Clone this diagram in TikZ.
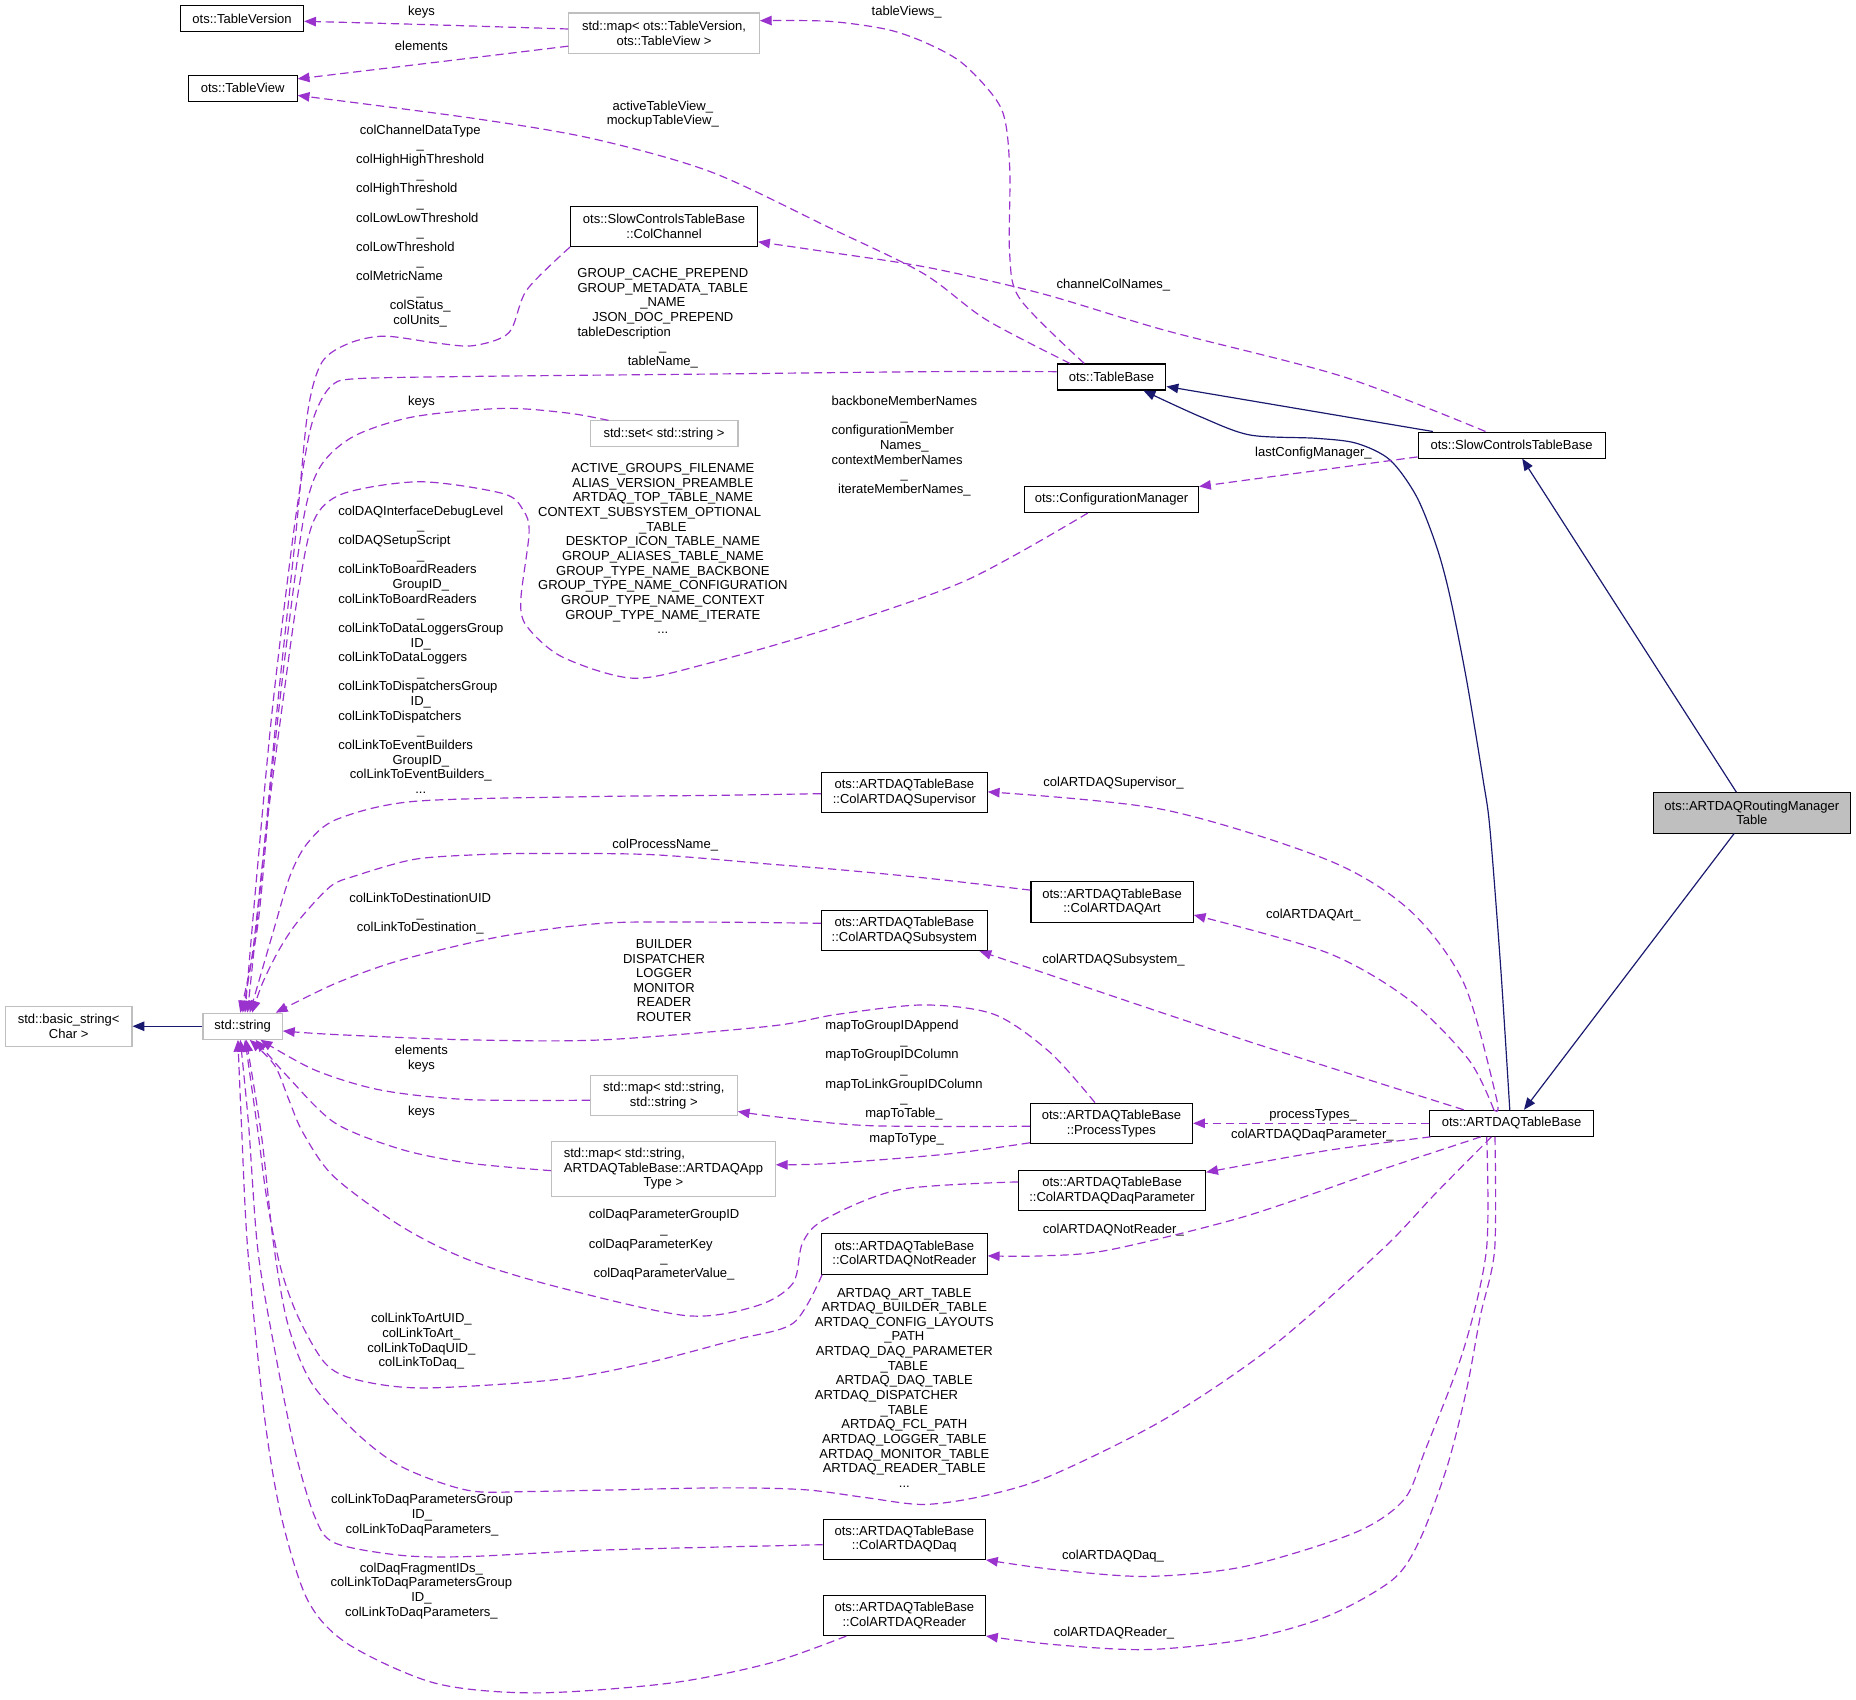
\documentclass[tikz,border=0pt]{standalone}
\usepackage{fontspec}
\setmainfont{Liberation Sans}
\usetikzlibrary{arrows.meta,calc}
\definecolor{depcol}{HTML}{9A32CD}
\definecolor{inhcol}{HTML}{191970}
\definecolor{extgray}{HTML}{BFBFBF}
\definecolor{maingray}{HTML}{BFBFBF}
\newcommand{\leftln}[2]{\sbox0{#1}\makebox[\wd0][l]{#2}}
\begin{document}
\begin{tikzpicture}[x=1pt,y=-1pt,font=\fontsize{11}{12.37}\selectfont,
 cls/.style={draw=black,line width=0.9pt,fill=white,inner sep=0pt,align=center},
 ext/.style={draw=extgray,line width=0.9pt,fill=white,inner sep=0pt,align=center},
 mainc/.style={draw=black,fill=maingray,line width=0.9pt,inner sep=0pt,align=center},
 lbl/.style={inner sep=0pt,align=center},
 dep/.style={draw=depcol,line width=1pt,dash pattern=on 7pt off 4pt,-{Triangle[length=10pt,width=8pt]}},
 inh/.style={draw=inhcol,line width=1pt,-{Triangle[length=10pt,width=8pt]}},
 sz/.style 2 args={minimum width=#1pt,minimum height=#2pt}]
\useasboundingbox[fill=white] (0,0) rectangle (1568,1436.2);

% ---------------- class nodes ----------------
\node[cls,sz={104}{22}] (tver) at (204.5,15.6) {ots::TableVersion};
\node[ext,sz={161}{34}] (mapTV) at (561,28) {std::map< ots::TableVersion,\\ots::TableView >};
\node[cls,sz={92}{22}] (tview) at (205,74.6) {ots::TableView};
\node[cls,sz={158}{34}] (colchan) at (561,191.3) {ots::SlowControlsTableBase\\::ColChannel};
\node[cls,sz={92}{22}] (tbase) at (939,318.5) {ots::TableBase};
\node[cls,sz={158}{22}] (sctb) at (1277,376) {ots::SlowControlsTableBase};
\node[ext,sz={125}{22}] (setstr) at (561,366.6) {std::set< std::string >};
\node[cls,sz={147}{22}] (cfgm) at (939,422) {ots::ConfigurationManager};
\node[mainc,sz={166}{34}] (routing) at (1480,686.8) {ots::ARTDAQRoutingManager\\Table};
\node[cls,sz={140}{34}] (csup) at (764,669.5) {ots::ARTDAQTableBase\\::ColARTDAQSupervisor};
\node[cls,sz={137}{34}] (cart) at (939.5,762) {ots::ARTDAQTableBase\\::ColARTDAQArt};
\node[cls,sz={140}{34}] (csub) at (764,786) {ots::ARTDAQTableBase\\::ColARTDAQSubsystem};
\node[ext,sz={107}{34}] (bstr) at (58,867) {std::basic\_string<\\Char >};
\node[ext,sz={67}{22}] (str) at (205,867) {std::string};
\node[ext,sz={124}{34}] (mapSS) at (560.8,925.5) {std::map< std::string,\\std::string >};
\node[cls,sz={137}{34}] (ptypes) at (939,949) {ots::ARTDAQTableBase\\::ProcessTypes};
\node[cls,sz={138}{22}] (atb) at (1277,949) {ots::ARTDAQTableBase};
\node[ext,sz={189}{46}] (mapApp) at (560.5,987.5) {\leftln{ARTDAQTableBase::ARTDAQApp}{std::map< std::string,}\\ARTDAQTableBase::ARTDAQApp\\Type >};
\node[cls,sz={158}{34}] (cdaqp) at (939.5,1005.8) {ots::ARTDAQTableBase\\::ColARTDAQDaqParameter};
\node[cls,sz={140}{34}] (cnotr) at (764,1059.4) {ots::ARTDAQTableBase\\::ColARTDAQNotReader};
\node[cls,sz={137}{34}] (cdaq) at (764,1300.4) {ots::ARTDAQTableBase\\::ColARTDAQDaq};
\node[cls,sz={137}{34}] (creader) at (764,1364.7) {ots::ARTDAQTableBase\\::ColARTDAQReader};

% ---------------- edge labels ----------------
\node[lbl] (lA) at (356,10) {keys};
\node[lbl] (lB) at (356,39) {elements};
\node[lbl] (lC) at (766,10) {tableViews\_};
\node[lbl] (lD) at (560,96.3) {activeTableView\_\\mockupTableView\_};
\node[lbl] (lE) at (940.6,240.7) {channelColNames\_};
\node[lbl] (lF) at (560,268.9) {GROUP\_CACHE\_PREPEND\\GROUP\_METADATA\_TABLE\\\_NAME\\JSON\_DOC\_PREPEND\\\leftln{GROUP\_METADATA\_TABLE}{tableDescription}\\\_\\tableName\_};
\node[lbl] (lG) at (355,190.9) {colChannelDataType\\\_\\\leftln{colHighHighThreshold}{colHighHighThreshold}\\\_\\\leftln{colHighHighThreshold}{colHighThreshold}\\\_\\\leftln{colHighHighThreshold}{colLowLowThreshold}\\\_\\\leftln{colHighHighThreshold}{colLowThreshold}\\\_\\\leftln{colHighHighThreshold}{colMetricName}\\\_\\colStatus\_\\colUnits\_};
\node[lbl] (lH) at (356,340) {keys};
\node[lbl] (lI) at (764,376.8) {backboneMemberNames\\\_\\\leftln{backboneMemberNames}{configurationMember}\\Names\_\\\leftln{backboneMemberNames}{contextMemberNames}\\\_\\iterateMemberNames\_};
\node[lbl] (lJ) at (560,463.5) {ACTIVE\_GROUPS\_FILENAME\\ALIAS\_VERSION\_PREAMBLE\\ARTDAQ\_TOP\_TABLE\_NAME\\\leftln{GROUP\_TYPE\_NAME\_CONFIGURATION}{CONTEXT\_SUBSYSTEM\_OPTIONAL}\\\_TABLE\\DESKTOP\_ICON\_TABLE\_NAME\\GROUP\_ALIASES\_TABLE\_NAME\\GROUP\_TYPE\_NAME\_BACKBONE\\GROUP\_TYPE\_NAME\_CONFIGURATION\\GROUP\_TYPE\_NAME\_CONTEXT\\GROUP\_TYPE\_NAME\_ITERATE\\...};
\node[lbl] (lK) at (1109.6,382.9) {lastConfigManager\_};
\node[lbl] (lS) at (355.5,548.8) {colDAQInterfaceDebugLevel\\\_\\\leftln{colLinkToDataLoggersGroup}{colDAQSetupScript}\\\_\\\leftln{colLinkToDataLoggersGroup}{colLinkToBoardReaders}\\GroupID\_\\\leftln{colLinkToDataLoggersGroup}{colLinkToBoardReaders}\\\_\\\leftln{colLinkToDataLoggersGroup}{colLinkToDataLoggersGroup}\\ID\_\\\leftln{colLinkToDataLoggersGroup}{colLinkToDataLoggers}\\\_\\\leftln{colLinkToDataLoggersGroup}{colLinkToDispatchersGroup}\\ID\_\\\leftln{colLinkToDataLoggersGroup}{colLinkToDispatchers}\\\_\\\leftln{colLinkToDataLoggersGroup}{colLinkToEventBuilders}\\GroupID\_\\colLinkToEventBuilders\_\\...};
\node[lbl] (lT) at (562,713.7) {colProcessName\_};
\node[lbl] (lP) at (940.7,661.6) {colARTDAQSupervisor\_};
\node[lbl] (lQ) at (1109.5,773.4) {colARTDAQArt\_};
\node[lbl] (lR) at (940.7,810.8) {colARTDAQSubsystem\_};
\node[lbl] (lU) at (355,772.1) {colLinkToDestinationUID\\\_\\colLinkToDestination\_};
\node[lbl] (lV) at (561,828.4) {BUILDER\\DISPATCHER\\LOGGER\\MONITOR\\READER\\ROUTER};
\node[lbl] (lW) at (763.7,904) {\leftln{mapToLinkGroupIDColumn}{mapToGroupIDAppend}\\\_\\\leftln{mapToLinkGroupIDColumn}{mapToGroupIDColumn}\\\_\\mapToLinkGroupIDColumn\\\_\\mapToTable\_};
\node[lbl] (lX) at (766,962.3) {mapToType\_};
\node[lbl] (lY) at (356,894.5) {elements\\keys};
\node[lbl] (lZ) at (356,939.9) {keys};
\node[lbl] (lAA) at (1109.4,942.3) {processTypes\_};
\node[lbl] (lAB) at (1108.7,959.2) {colARTDAQDaqParameter\_};
\node[lbl] (lAC) at (561,1051.5) {colDaqParameterGroupID\\\_\\\leftln{colDaqParameterGroupID}{colDaqParameterKey}\\\_\\colDaqParameterValue\_};
\node[lbl] (lAD) at (940.6,1038.9) {colARTDAQNotReader\_};
\node[lbl] (lAE) at (356,1133.4) {colLinkToArtUID\_\\colLinkToArt\_\\colLinkToDaqUID\_\\colLinkToDaq\_};
\node[lbl] (lAF) at (764,1172.3) {ARTDAQ\_ART\_TABLE\\ARTDAQ\_BUILDER\_TABLE\\ARTDAQ\_CONFIG\_LAYOUTS\\\_PATH\\ARTDAQ\_DAQ\_PARAMETER\\\_TABLE\\ARTDAQ\_DAQ\_TABLE\\\leftln{ARTDAQ\_CONFIG\_LAYOUTS}{ARTDAQ\_DISPATCHER}\\\_TABLE\\ARTDAQ\_FCL\_PATH\\ARTDAQ\_LOGGER\_TABLE\\ARTDAQ\_MONITOR\_TABLE\\ARTDAQ\_READER\_TABLE\\...};
\node[lbl] (lAG) at (940.3,1314.8) {colARTDAQDaq\_};
\node[lbl] (lAH) at (941,1379.5) {colARTDAQReader\_};
\node[lbl] (lAI) at (356.5,1280.1) {colLinkToDaqParametersGroup\\ID\_\\colLinkToDaqParameters\_};
\node[lbl] (lAJ) at (356,1344) {colDaqFragmentIDs\_\\colLinkToDaqParametersGroup\\ID\_\\colLinkToDaqParameters\_};

% ---------------- inheritance ----------------
\draw[inh] (str) -- (bstr);
\draw[inh] ($(sctb.north west)+(13,0)$) -- ($(tbase.east)+(0,8)$);
\draw[inh] ($(routing.north)+(-13,0)$) -- ($(sctb.south)+(9,0)$);
\draw[inh] ($(routing.south)+(-15,0)$) -- ($(atb.north)+(10.5,0)$);
\draw[inh] plot[smooth] coordinates {($(atb.north)+(-1.5,0)$) (1268,820) (1258.8,701) (1253,659) (1239,574.5) (1225,504) (1213.7,462) (1196.8,419.6) (1174.3,388.6) (1146,374.5) (1112,370.3) (1056,367.5) (1014,352) ($(tbase.south)+(27,0)$)};

% ---------------- usage (dashed) ----------------
\draw[dep] plot[smooth] coordinates {($(mapTV.west)+(0,-3.5)$) (350,20.5) ($(tver.east)+(0,2.4)$)};
\draw[dep] plot[smooth] coordinates {($(mapTV.west)+(0,11)$) (365,53) ($(tview.east)+(0,-8)$)};
\draw[dep] plot[smooth] coordinates {($(tbase.north)+(-23,0)$) (862,253) (853,215) (853,141) (846,92) (815,55) (784,37) (750,25) (700,18) ($(mapTV.east)+(0,-10.5)$)};
\draw[dep] plot[smooth] coordinates {($(tbase.north)+(-35,0)$) (833,270) (780,231) (700,192) (600,145) (500,117) (400,100) ($(tview.east)+(0,6)$)};
\draw[dep] plot[smooth] coordinates {($(sctb.north)+(-22,0)$) (1134,318) (984,279) (880,248) (784,226) (700,213) ($(colchan.east)+(0,13)$)};
\draw[dep] plot[smooth] coordinates {($(tbase.west)+(0,-4.5)$) (784,314) (600,316) (400,318) (300,320) (280,326) (268,345) (260,373) (248,450) (230,600) (216,750) ($(str.north)+(2,0)$)};
\draw[dep] plot[smooth] coordinates {(colchan.south west) (445,245) (430,281) (400,292) (370,290) (325,284) (295,290) (272,306) (260,348) (250,450) (234,600) (220,750) ($(str.north)+(4,0)$)};
\draw[dep] plot[smooth] coordinates {($(setstr.north west)+(16,0)$) (480,349) (425,345) (350,352) (300,368) (272,392) (258,430) (245,520) (230,650) (218,780) ($(str.north)+(-2,0)$)};
\draw[dep] plot[smooth] coordinates {($(cfgm.south)+(-20,0)$) (817,490) (704,530) (600,560) (535,573) (475,555) (445,529) (440,507) (447,450) (442,431) (425,417) (355,407) (290,417) (265,440) (252,500) (238,600) (225,700) (214,800) (str.north)};
\draw[dep] plot[smooth] coordinates {($(sctb.west)+(0,10)$) ($(cfgm.east)+(0,-11)$)};
\draw[dep] plot[smooth] coordinates {($(atb.north)+(-15,0)$) (1264.5,929) (1236.7,830.7) (1190.7,768.8) (1121.6,726.5) (983,684) ($(csup.east)+(0,-0.5)$)};
\draw[dep] plot[smooth] coordinates {($(atb.north)+(-15,0)$) (1241,895.5) (1190.7,844.8) (1121.6,805) ($(cart.east)+(0,11)$)};
\draw[dep] plot[smooth] coordinates {($(atb.north west)+(29,0)$) (1040,875) ($(csub.south east)+(-7,0)$)};
\draw[dep] plot[smooth] coordinates {($(csup.west)+(0,1)$) (600,672) (500,673) (350,677) (285,692) (260,712) (245,740) (230,790) ($(str.north)+(6,0)$)};
\draw[dep] plot[smooth] coordinates {($(cart.west)+(0,-10)$) (784,742) (712,735) (650,730) (550,722) (450,721) (405,722) (350,726) (300,740) (279,749) (252,778) (236,802) (222,830) ($(str.north)+(8,0)$)};
\draw[dep] plot[smooth] coordinates {($(csub.west)+(0,-6)$) (594,779) (509,780) (424,791) (339,811) (283,831) ($(str.north east)+(-6,0)$)};
\draw[dep] plot[smooth] coordinates {($(ptypes.north west)+(55,0)$) (887,889) (840,857) (780,849) (707,857) (650,867) (509,878.5) (396,878.5) (283,874) ($(str.east)+(0,4)$)};
\draw[dep] plot[smooth] coordinates {($(ptypes.west)+(0,2.5)$) (735,951) (660,944) ($(mapSS.east)+(0,13.5)$)};
\draw[dep] plot[smooth] coordinates {($(ptypes.south west)+(0,-1)$) (800,975) (700,983) ($(mapApp.east)+(0,-3.5)$)};
\draw[dep] plot[smooth] coordinates {($(mapSS.west)+(0,4)$) (396,929) (322,921) (266,904) ($(str.south)+(15,0)$)};
\draw[dep] plot[smooth] coordinates {($(mapApp.west)+(0,1.5)$) (396,982.6) (339,971) (283,948.7) (243,909.5) ($(str.south)+(11,0)$)};
\draw[dep] (atb) -- (ptypes);
\draw[dep] plot[smooth] coordinates {($(atb.south west)+(1,0)$) (1121,972) ($(cdaqp.north east)+(0,2)$)};
\draw[dep] plot[smooth] coordinates {($(cdaqp.west)+(0,-7.3)$) (760,1005) (697,1030) (678,1050) (670,1084) (640,1103) (580,1111.5) (470,1087) (395,1064) (339,1036) (282,994) (256,957) (244,929) (232,900) ($(str.south)+(6,0)$)};
\draw[dep] plot[smooth] coordinates {($(atb.south)+(-26,0)$) (1167.6,988) (1052,1027.6) (937,1056) (880,1061) ($(cnotr.east)+(0,1.6)$)};
\draw[dep] plot[smooth] coordinates {($(cnotr.south west)+(1,0)$) (670.4,1117.6) (621.4,1131.8) (546,1151.5) (470.4,1165.5) (357,1172.6) (300.7,1165.5) (274.5,1151.5) (251.6,1112) (236.8,1070) (225.5,1013.5) (218,957) ($(str.south)+(2,0)$)};
\draw[dep] plot[smooth] coordinates {($(atb.south)+(-17,0)$) (1213,1008) (1167.6,1055.7) (1075,1137.4) (983,1199.5) (887,1247) (830,1264) (780,1271) (730,1265) (679,1258.5) (605,1257) (452.5,1260) (395,1259) (339,1239) (301,1210.5) (263,1168) (243,1118) (231,1050) (221,960) ($(str.south)+(3,0)$)};
\draw[dep] plot[smooth] coordinates {($(atb.south)+(-21,0)$) (1255.8,1055.7) (1236.5,1140) (1204.3,1224.5) (1186,1267) (1144.3,1295) (1052,1323.3) (969,1331.8) (890.7,1326) (cdaq.south east)};
\draw[dep] plot[smooth] coordinates {($(atb.south)+(-14,0)$) (1262.7,1055.7) (1250.6,1112) (1239,1174) (1222.7,1238.6) (1199.6,1300.6) (1176.6,1334.5) (1121.3,1365.5) (1052,1385) (969,1393.6) (890.7,1389.4) (creader.south east)};
\draw[dep] plot[smooth] coordinates {($(cdaq.west)+(0,4.6)$) (509,1309.5) (396,1315) (339,1314) (282.8,1303.5) (265.8,1281) (249,1224.7) (232,1140) (217.8,1055.7) (210,950) ($(str.south)+(-2,0)$)};
\draw[dep] plot[smooth] coordinates {($(creader.south west)+(20,0)$) (650.5,1405) (565.6,1422) (452.5,1430.2) (367.6,1422) (294,1388.9) (260,1352) (237.6,1281) (223.4,1196.5) (209.3,1055.7) (204,950) ($(str.south)+(-4,0)$)};
\end{tikzpicture}
\end{document}
